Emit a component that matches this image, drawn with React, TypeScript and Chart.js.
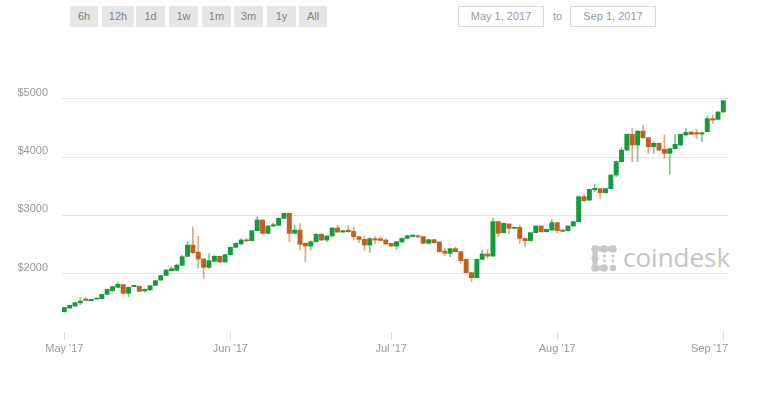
import React, { useEffect, useRef } from "react";
import { Chart, registerables } from "chart.js";

Chart.register(...registerables);

// Day index 0 = May 1, 2017 ... 123 = Sep 1, 2017
const opens = [
  1348, 1411, 1446, 1500, 1560, 1540, 1565, 1571, 1646, 1708,
  1766, 1811, 1663, 1783, 1783, 1712, 1720, 1800, 1891, 1971,
  2051, 2057, 2143, 2297, 2491, 2371, 2251, 2108, 2211, 2297,
  2200, 2325, 2451, 2508, 2580, 2565, 2737, 2920, 2691, 2817,
  2828, 2948, 3034, 2691, 2748, 2520, 2474, 2548, 2674, 2577,
  2645, 2783, 2714, 2737, 2725, 2634, 2588, 2491, 2600, 2600,
  2577, 2519, 2474, 2543, 2605, 2645, 2650, 2634, 2520, 2583,
  2543, 2388, 2348, 2428, 2377, 2245, 2017, 1931, 2245, 2337,
  2302, 2891, 2703, 2851, 2777, 2794, 2605, 2565, 2703, 2817,
  2720, 2748, 2874, 2748, 2737, 2817, 2891, 3320, 3262, 3445,
  3457, 3388, 3457, 3691, 3920, 4119, 4388, 4205, 4445, 4331,
  4177, 4234, 4131, 4062, 4142, 4205, 4377, 4428, 4417, 4394,
  4434, 4657, 4645, 4771,
];
const closes = [
  1420, 1457, 1503, 1530, 1548, 1552, 1580, 1646, 1731, 1777,
  1817, 1663, 1766, 1792, 1697, 1725, 1794, 1880, 1965, 2063,
  2085, 2148, 2291, 2491, 2360, 2251, 2108, 2223, 2297, 2200,
  2325, 2451, 2520, 2577, 2562, 2737, 2920, 2691, 2817, 2840,
  2948, 3034, 2691, 2748, 2503, 2474, 2548, 2674, 2577, 2645,
  2783, 2714, 2737, 2725, 2634, 2588, 2491, 2600, 2577, 2570,
  2508, 2474, 2548, 2605, 2651, 2655, 2630, 2520, 2583, 2531,
  2377, 2348, 2428, 2377, 2222, 2017, 1931, 2245, 2337, 2302,
  2891, 2691, 2862, 2777, 2794, 2605, 2565, 2703, 2817, 2720,
  2760, 2874, 2737, 2726, 2817, 2891, 3320, 3251, 3445, 3457,
  3388, 3457, 3691, 3920, 4119, 4388, 4205, 4445, 4331, 4177,
  4234, 4119, 4062, 4142, 4217, 4388, 4422, 4388, 4394, 4417,
  4657, 4634, 4771, 4965,
];
const highs = [
  1425, 1462, 1510, 1590, 1590, 1558, 1588, 1652, 1738, 1785,
  1857, 1820, 1770, 1800, 1790, 1735, 1800, 1886, 1972, 2070,
  2120, 2155, 2314, 2548, 2805, 2640, 2260, 2340, 2320, 2305,
  2330, 2460, 2530, 2600, 2600, 2745, 2977, 2925, 2825, 2870,
  2955, 3040, 3040, 2834, 2860, 2530, 2560, 2690, 2690, 2650,
  2790, 2834, 2745, 2823, 2800, 2645, 2645, 2610, 2634, 2634,
  2600, 2525, 2555, 2612, 2658, 2665, 2660, 2640, 2590, 2590,
  2550, 2434, 2434, 2463, 2385, 2250, 2025, 2255, 2405, 2417,
  2950, 2895, 2870, 2860, 2800, 2834, 2610, 2710, 2825, 2825,
  2765, 2931, 2880, 2755, 2822, 2900, 3330, 3365, 3450, 3537,
  3462, 3462, 3700, 3930, 4165, 4395, 4491, 4450, 4548, 4340,
  4262, 4240, 4377, 4150, 4388, 4395, 4491, 4435, 4474, 4425,
  4702, 4720, 4780, 4970,
];
const lows = [
  1340, 1405, 1440, 1470, 1540, 1535, 1560, 1565, 1640, 1700,
  1760, 1650, 1606, 1775, 1690, 1685, 1715, 1795, 1885, 1965,
  2045, 2050, 2138, 2290, 2340, 2091, 1920, 2095, 2205, 2190,
  2195, 2320, 2445, 2500, 2550, 2560, 2730, 2680, 2685, 2805,
  2820, 2940, 2548, 2680, 2405, 2206, 2405, 2540, 2570, 2550,
  2640, 2705, 2705, 2715, 2577, 2531, 2405, 2365, 2520, 2560,
  2500, 2465, 2417, 2538, 2600, 2640, 2625, 2510, 2515, 2520,
  2370, 2308, 2291, 2370, 2177, 2010, 1862, 1925, 2240, 2262,
  2295, 2634, 2695, 2691, 2770, 2520, 2463, 2560, 2698, 2700,
  2710, 2742, 2703, 2715, 2730, 2810, 2885, 3235, 3255, 3405,
  3291, 3380, 3450, 3662, 3912, 4110, 3920, 3920, 4320, 4062,
  4062, 4110, 3977, 3708, 4135, 4198, 4370, 4380, 4320, 4262,
  4428, 4577, 4640, 4765,
];

const monthTickDays = [0, 31, 61, 92, 123];
const monthTickLabels = ["May '17", "Jun '17", "Jul '17", "Aug '17", "Sep '17"];
const priceTicks = [2000, 3000, 4000, 5000];
const rangeButtons = ["6h", "12h", "1d", "1w", "1m", "3m", "1y", "All"];
const fromDate = "May 1, 2017";
const toDate = "Sep 1, 2017";

const GREEN = "#149b3a";
const ORANGE = "#c2601e";
const GREEN_WICK = "rgba(20,155,58,0.55)";
const ORANGE_WICK = "rgba(194,96,30,0.55)";
const FONT = "'Liberation Sans', Arial, Helvetica, sans-serif";

export default function App() {
  const canvasRef = useRef<HTMLCanvasElement | null>(null);

  useEffect(() => {
    const canvas = canvasRef.current;
    if (!canvas) return;
    const up = opens.map((o, i) => closes[i] >= o);
    const wickData = opens.map((_, i) => ({ x: i, y: [lows[i], highs[i]] }));
    const bodyData = opens.map((o, i) => {
      const c = closes[i];
      const lo = Math.min(o, c);
      const hi = Math.max(o, c);
      return { x: i, y: hi - lo < 14 ? [lo - 7, hi + 7] : [lo, hi] };
    });

    const chart = new Chart(canvas, {
      type: "bar",
      data: {
        datasets: [
          {
            label: "body",
            data: bodyData as any,
            backgroundColor: up.map((u) => (u ? GREEN : ORANGE)),
            barThickness: 4.3,
            grouped: false,
            order: 1,
          } as any,
          {
            label: "wick",
            data: wickData as any,
            backgroundColor: up.map((u) => (u ? GREEN_WICK : ORANGE_WICK)),
            barThickness: 1,
            grouped: false,
            order: 2,
          } as any,
        ],
      },
      options: {
        responsive: false,
        animation: false,
        devicePixelRatio: 1,
        layout: { padding: { left: 0, right: 40, top: 60, bottom: 0 } },
        plugins: { legend: { display: false }, tooltip: { enabled: false } },
        scales: {
          x: {
            type: "linear",
            min: -0.43,
            max: 123.87,
            offset: false,
            grid: {
              offset: false,
              drawOnChartArea: false,
              drawTicks: true,
              tickLength: 8,
              tickColor: "#ccd6eb",
            },
            border: { display: false },
            afterBuildTicks: (scale: any) => {
              scale.ticks = monthTickDays.map((v) => ({ value: v }));
            },
            afterFit: (scale: any) => {
              scale.height = 61;
            },
            ticks: {
              autoSkip: false,
              maxRotation: 0,
              padding: 2,
              color: "#999999",
              font: { family: FONT, size: 11 },
              callback: (v: any) => {
                const idx = monthTickDays.indexOf(Number(v));
                if (idx < 0) return "";
                // last label is kept inside the plot edge, as in the original
                return idx === monthTickDays.length - 1
                  ? monthTickLabels[idx] + "         "
                  : monthTickLabels[idx];
              },
            },
          },
          y: {
            type: "linear",
            min: 1000,
            max: 5663,
            beginAtZero: false,
            grid: { color: "#e6e6e6", drawTicks: false, lineWidth: 1 },
            border: { display: false },
            afterBuildTicks: (scale: any) => {
              scale.ticks = priceTicks.map((v) => ({ value: v }));
            },
            afterFit: (scale: any) => {
              scale.width = 62;
            },
            ticks: {
              padding: 14,
              labelOffset: -6,
              color: "#999999",
              font: { family: FONT, size: 11 },
              callback: (v: any) => "$" + v,
            },
          },
        },
      },
    });
    return () => chart.destroy();
  }, []);

  const btnLefts = [70, 102, 136, 169, 202, 234, 267, 299];
  const btnWidths = [28, 32, 29, 29, 29, 29, 29, 28];

  return (
    <div
      style={{
        position: "absolute",
        left: 0,
        top: 0,
        width: 768,
        height: 393,
        background: "#ffffff",
        overflow: "hidden",
        fontFamily: FONT,
      }}
    >
      {rangeButtons.map((b, i) => (
        <div
          key={b}
          style={{
            position: "absolute",
            left: btnLefts[i],
            top: 6,
            width: btnWidths[i],
            height: 21,
            background: "#e6e6e6",
            color: "#808080",
            fontSize: 11,
            lineHeight: "21px",
            textAlign: "center",
          }}
        >
          {b}
        </div>
      ))}
      <div
        style={{
          position: "absolute",
          left: 458,
          top: 6,
          width: 84,
          height: 19,
          border: "1px solid #d8d8d8",
          color: "#9a9a9a",
          fontSize: 11,
          lineHeight: "19px",
          textAlign: "center",
        }}
      >
        {fromDate}
      </div>
      <div
        style={{
          position: "absolute",
          left: 553,
          top: 6,
          height: 21,
          color: "#9a9a9a",
          fontSize: 11,
          lineHeight: "21px",
        }}
      >
        to
      </div>
      <div
        style={{
          position: "absolute",
          left: 570,
          top: 6,
          width: 84,
          height: 19,
          border: "1px solid #d8d8d8",
          color: "#9a9a9a",
          fontSize: 11,
          lineHeight: "19px",
          textAlign: "center",
        }}
      >
        {toDate}
      </div>
      <svg
        width={28}
        height={27}
        viewBox="0 0 28 27"
        style={{ position: "absolute", left: 591, top: 245 }}
      >
        <g fill="#c8c8c8">
          <circle cx={4} cy={4} r={3.8} />
          <circle cx={13} cy={4} r={3.8} />
          <circle cx={22} cy={4} r={3.8} />
          <rect x={4} y={1.5} width={18} height={5} />
          <circle cx={4} cy={13.5} r={3.6} />
          <rect x={1.5} y={4} width={5} height={19} />
          <circle cx={4} cy={23} r={3.8} />
          <circle cx={13} cy={23} r={3.8} />
          <rect x={4} y={20.5} width={9} height={5} />
          <circle cx={22} cy={23} r={3.2} />
          <circle cx={13.5} cy={11} r={1.4} />
          <circle cx={13.5} cy={16} r={1.4} />
          <circle cx={22} cy={11} r={1.4} />
          <circle cx={22} cy={16} r={1.4} />
        </g>
      </svg>
      <div
        style={{
          position: "absolute",
          left: 623,
          top: 242,
          color: "#c4c4c4",
          fontSize: 26,
          lineHeight: "30px",
          fontFamily: "'Open Sans', 'Liberation Sans', Arial, sans-serif",
          letterSpacing: 0,
        }}
      >
        coindesk
      </div>
      <canvas
        ref={canvasRef}
        width={768}
        height={393}
        style={{ position: "absolute", left: 0, top: 0, width: 768, height: 393 }}
      />
    </div>
  );
}
